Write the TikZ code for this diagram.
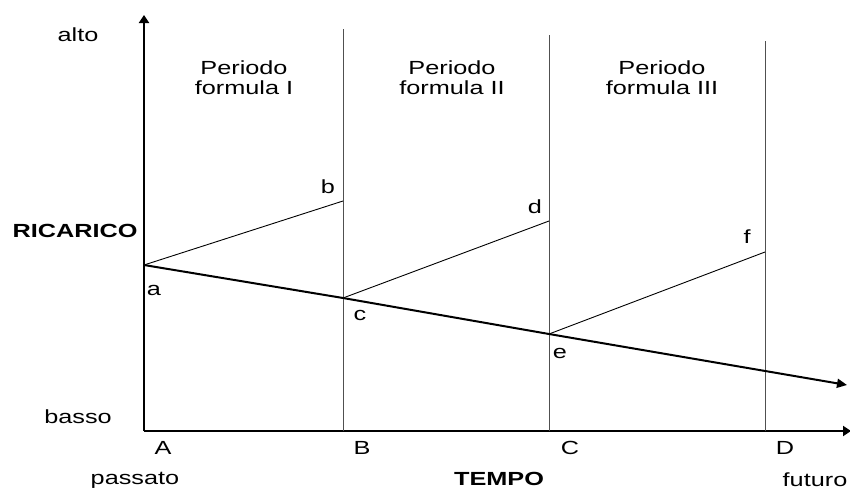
\documentclass[tikz,border=0pt]{standalone}
\usepackage{fontspec}
\setmainfont{Liberation Sans}[FakeStretch=1.33]
\usetikzlibrary{arrows.meta}
\definecolor{vgray}{RGB}{80,80,80}
\tikzset{
  lbl/.style={inner sep=0pt, font=\fontsize{19}{20}\selectfont},
  blbl/.style={lbl, font=\fontsize{19}{20}\selectfont\bfseries},
  per/.style={lbl, align=center},
  axis/.style={line width=2pt, -{Triangle[length=8pt,width=10pt]}},
  vline/.style={draw=vgray, line width=1pt},
  thin/.style={line width=0.9pt},
  trend/.style={line width=2pt, -{Triangle[length=10pt,width=9pt]}}
}
\begin{document}
\begin{tikzpicture}[x=1pt,y=-1pt]
\useasboundingbox (0,0) rectangle (850,490);
% axes
\coordinate (O) at (144,431);
\coordinate (Ytop) at (144,15);
\coordinate (Xend) at (851,431);
\draw[axis] (O) -- (Ytop);
\draw[axis] (O) -- (Xend);
% period boundaries
\coordinate (Bbot) at (343,431); \coordinate (Btop) at (343,29);
\coordinate (Cbot) at (549,431); \coordinate (Ctop) at (549,35);
\coordinate (Dbot) at (765,431); \coordinate (Dtop) at (765,41);
\draw[vline] (Bbot) -- (Btop);
\draw[vline] (Cbot) -- (Ctop);
\draw[vline] (Dbot) -- (Dtop);
% points
\coordinate (pa) at (144,265);
\coordinate (pb) at (343,201);
\coordinate (pc) at (343,298);
\coordinate (pd) at (549,221);
\coordinate (pe) at (549,334);
\coordinate (pf) at (765,252);
\coordinate (pend) at (847,385);
\draw[thin] (pa) -- (pb);
\draw[thin] (pc) -- (pd);
\draw[thin] (pe) -- (pf);
\draw[trend] (pa) -- (pc) -- (pe) -- (pend);
% labels
\node[lbl] (la) at (154,290) {a};
\node[lbl] (lb) at (328,187) {b};
\node[lbl] (lc) at (360,315) {c};
\node[lbl] (ld) at (535,207) {d};
\node[lbl] (le) at (560,353) {e};
\node[lbl] (lf) at (747,237) {f};
\node[lbl] (alto) at (78,35) {alto};
\node[lbl] (basso) at (78,417) {basso};
\node[blbl] (ric) at (75,231) {RICARICO};
\node[lbl] (A) at (163,448) {A};
\node[lbl] (B) at (362,448) {B};
\node[lbl] (C) at (570,448) {C};
\node[lbl] (D) at (785,448) {D};
\node[lbl] (passato) at (135,480) {passato};
\node[blbl] (tempo) at (499,479) {TEMPO};
\node[lbl] (futuro) at (815,480) {futuro};
\node[per] (p1) at (244,78) {Periodo\\formula I};
\node[per] (p2) at (452,78) {Periodo\\formula II};
\node[per] (p3) at (662,78) {Periodo\\formula III};
\end{tikzpicture}
\end{document}
